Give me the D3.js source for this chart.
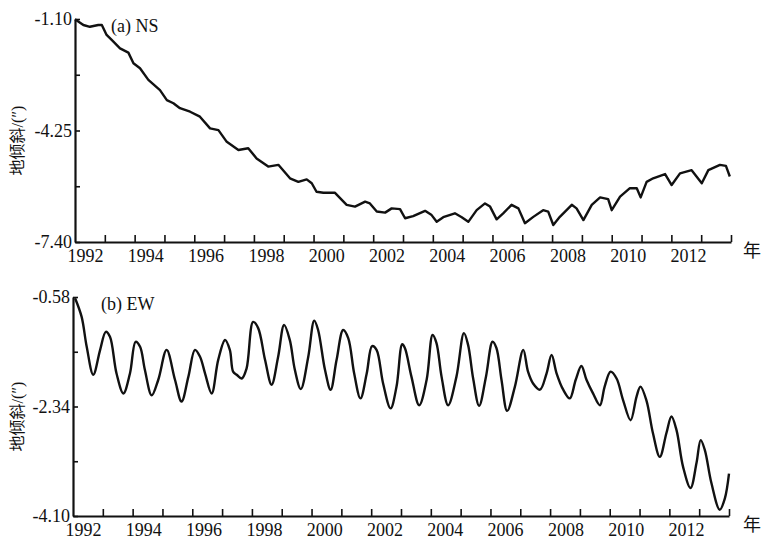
<!DOCTYPE html>
<html>
<head>
<meta charset="utf-8">
<script src="https://cdn.jsdelivr.net/npm/d3@7"></script>
<style>
  body { margin: 0; background: #fff; }
  text { font-family: "Liberation Serif", "Noto Sans CJK SC", serif; fill: #111; }
</style>
</head>
<body>
<div id="chart"></div>
<script>
// panel (a) NS: time (year) and tilt value (")
var nsYears = [1992.00, 1992.28, 1992.50, 1992.78, 1992.90, 1993.06, 1993.23, 1993.51, 1993.79, 1993.96,
  1994.18, 1994.46, 1994.85, 1995.08, 1995.30, 1995.52, 1995.86, 1996.19, 1996.53, 1996.81,
  1997.09, 1997.48, 1997.81, 1998.09, 1998.48, 1998.82, 1999.21, 1999.49, 1999.77, 1999.94,
  2000.10, 2000.33, 2000.72, 2001.11, 2001.39, 2001.73, 2001.89, 2002.12, 2002.40, 2002.62,
  2002.90, 2003.07, 2003.34, 2003.74, 2003.96, 2004.13, 2004.35, 2004.74, 2004.97, 2005.19,
  2005.47, 2005.75, 2005.92, 2006.14, 2006.36, 2006.64, 2006.87, 2007.09, 2007.37, 2007.70,
  2007.87, 2008.04, 2008.26, 2008.66, 2008.82, 2009.05, 2009.33, 2009.61, 2009.88, 2010.00,
  2010.28, 2010.61, 2010.84, 2010.97, 2011.17, 2011.39, 2011.79, 2012.01, 2012.29, 2012.68,
  2013.02, 2013.24, 2013.63, 2013.83, 2013.96];
var nsValues = [-1.11, -1.27, -1.32, -1.27, -1.27, -1.55, -1.69, -1.93, -2.05, -2.35,
  -2.49, -2.82, -3.11, -3.39, -3.48, -3.62, -3.72, -3.86, -4.19, -4.24,
  -4.57, -4.80, -4.75, -5.04, -5.27, -5.22, -5.60, -5.70, -5.63, -5.74,
  -5.98, -6.01, -6.01, -6.35, -6.40, -6.26, -6.31, -6.54, -6.57, -6.45,
  -6.47, -6.73, -6.67, -6.52, -6.64, -6.83, -6.70, -6.59, -6.70, -6.83,
  -6.50, -6.31, -6.40, -6.76, -6.59, -6.35, -6.45, -6.87, -6.69, -6.50,
  -6.54, -6.92, -6.69, -6.35, -6.45, -6.78, -6.35, -6.14, -6.19, -6.50,
  -6.12, -5.88, -5.88, -6.14, -5.70, -5.60, -5.48, -5.79, -5.46, -5.37,
  -5.74, -5.37, -5.22, -5.25, -5.55];

// panel (b) EW
var ewYears = [1992.07, 1992.29, 1992.46, 1992.68, 1992.91, 1993.10, 1993.24, 1993.46, 1993.69, 1993.91,
  1994.10, 1994.25, 1994.41, 1994.64, 1994.86, 1995.14, 1995.42, 1995.64, 1995.87, 1996.09,
  1996.26, 1996.43, 1996.65, 1996.87, 1997.10, 1997.26, 1997.37, 1997.49, 1997.66, 1997.82,
  1998.04, 1998.21, 1998.44, 1998.66, 1998.88, 1999.08, 1999.27, 1999.44, 1999.64, 1999.89,
  2000.09, 2000.22, 2000.45, 2000.64, 2000.84, 2001.06, 2001.23, 2001.43, 2001.64, 2001.85,
  2002.03, 2002.18, 2002.40, 2002.65, 2002.85, 2003.04, 2003.13, 2003.35, 2003.61, 2003.86,
  2004.06, 2004.19, 2004.36, 2004.58, 2004.86, 2005.11, 2005.25, 2005.42, 2005.62, 2005.85,
  2006.07, 2006.20, 2006.37, 2006.56, 2006.82, 2007.10, 2007.26, 2007.43, 2007.66, 2007.88,
  2008.05, 2008.22, 2008.44, 2008.66, 2008.86, 2009.05, 2009.22, 2009.44, 2009.67, 2009.83,
  2010.03, 2010.23, 2010.45, 2010.70, 2010.90, 2011.03, 2011.23, 2011.45, 2011.68, 2011.90,
  2012.07, 2012.24, 2012.46, 2012.71, 2012.91, 2013.05, 2013.19, 2013.41, 2013.69, 2013.86,
  2014.00];
var ewValues = [-0.60, -0.90, -1.38, -1.83, -1.43, -1.14, -1.22, -1.81, -2.13, -1.81,
  -1.30, -1.38, -1.75, -2.16, -1.91, -1.43, -1.91, -2.26, -1.86, -1.43,
  -1.54, -1.81, -2.13, -1.59, -1.27, -1.43, -1.78, -1.83, -1.89, -1.73,
  -0.98, -1.08, -1.59, -1.99, -1.54, -1.03, -1.27, -1.75, -2.06, -1.54,
  -0.96, -1.11, -1.75, -2.07, -1.59, -1.11, -1.24, -1.81, -2.21, -1.81,
  -1.37, -1.43, -1.97, -2.37, -2.02, -1.34, -1.40, -1.86, -2.32, -1.91,
  -1.19, -1.32, -1.86, -2.32, -1.86, -1.16, -1.35, -1.89, -2.33, -1.86,
  -1.30, -1.40, -1.91, -2.41, -2.02, -1.43, -1.78, -1.97, -2.07, -1.81,
  -1.51, -1.81, -2.07, -2.21, -1.91, -1.69, -1.91, -2.13, -2.32, -2.02,
  -1.78, -1.89, -2.24, -2.56, -2.18, -2.02, -2.24, -2.77, -3.15, -2.77,
  -2.50, -2.72, -3.31, -3.65, -3.25, -2.88, -3.04, -3.57, -4.00, -3.82,
  -3.42];

var yearLabels = [1992, 1994, 1996, 1998, 2000, 2002, 2004, 2006, 2008, 2010, 2012];
var yearTicks = d3.range(1993, 2015);

var width = 763, height = 540;

var svg = d3.select("#chart")
    .append("svg")
    .attr("width", width)
    .attr("height", height)
    .style("background", "#fff");

// one panel = axes + curve
function drawPanel(opt) {
    var g = svg.append("g");

    var x = d3.scaleLinear().domain([1992, 2014]).range([opt.left, opt.right]);
    var y = d3.scaleLinear().domain([opt.yTop, opt.yBottom]).range([opt.top, opt.bottom]);
    var mid = (opt.yTop + opt.yBottom) / 2;
    var yTicks = [opt.yTop, (opt.yTop + mid) / 2, mid, (mid + opt.yBottom) / 2, opt.yBottom];
    var labeled = [opt.yTop, mid, opt.yBottom];

    // x axis, ticks pointing inward
    var xAxis = g.append("g")
        .attr("transform", "translate(0," + opt.bottom + ")")
        .call(d3.axisBottom(x).tickValues(yearTicks).tickSize(-7).tickSizeOuter(0).tickFormat(""));
    xAxis.select(".domain").attr("stroke-width", 2.2).attr("stroke", "#111");
    xAxis.selectAll(".tick line").attr("stroke-width", 1.6).attr("stroke", "#111");

    // year labels sit a bit right of their ticks in the original
    var xl = d3.scaleLinear().domain([1992, 2012]).range([opt.left + 10, opt.left + 613]);
    var xLab = g.append("g")
        .attr("transform", "translate(0," + opt.bottom + ")")
        .call(d3.axisBottom(xl).tickValues(yearLabels).tickSize(0).tickPadding(7).tickFormat(d3.format("d")));
    xLab.select(".domain").remove();
    xLab.selectAll("text").style("font-size", "18px").attr("fill", "#111");

    // y axis
    var yAxis = g.append("g")
        .attr("transform", "translate(" + opt.left + ",0)")
        .call(d3.axisLeft(y).tickValues(yTicks).tickSize(-5).tickSizeOuter(0).tickPadding(3)
            .tickFormat(function(d) {
                return labeled.some(function(l) { return Math.abs(l - d) < 1e-6; }) ? d.toFixed(2) : "";
            }));
    yAxis.select(".domain").attr("stroke-width", 2.2).attr("stroke", "#111");
    yAxis.selectAll(".tick line").attr("stroke-width", 1.6).attr("stroke", "#111");
    yAxis.selectAll("text").style("font-size", "18px").attr("fill", "#111");

    // the series
    var pts = opt.years.map(function(t, i) { return [t, opt.values[i]]; });
    var line = d3.line()
        .x(function(d) { return x(d[0]); })
        .y(function(d) { return y(d[1]); })
        .curve(opt.curve);
    g.append("path")
        .datum(pts)
        .attr("fill", "none")
        .attr("stroke", "#111")
        .attr("stroke-width", 2.4)
        .attr("stroke-linejoin", "round")
        .attr("d", line);

    // panel title
    g.append("text")
        .attr("x", opt.titleX)
        .attr("y", opt.top + 13)
        .style("font-size", "18px")
        .text(opt.title);

    // y label
    g.append("text")
        .attr("transform", "translate(" + 23 + "," + ((opt.top + opt.bottom) / 2 + 10) + ") rotate(-90)")
        .attr("text-anchor", "middle")
        .style("font-size", "16px")
        .text("地倾斜/(″)");

    // unit at axis end
    g.append("text")
        .attr("x", 743)
        .attr("y", opt.bottom + 15)
        .style("font-size", "18px")
        .text("年");
}

drawPanel({
    title: "(a) NS", titleX: 111,
    left: 75, right: 731, top: 19, bottom: 242,
    yTop: -1.10, yBottom: -7.40,
    years: nsYears, values: nsValues,
    curve: d3.curveLinear
});

drawPanel({
    title: "(b) EW", titleX: 101,
    left: 73, right: 729, top: 297, bottom: 516,
    yTop: -0.58, yBottom: -4.10,
    years: ewYears, values: ewValues,
    curve: d3.curveCatmullRom.alpha(0.5)
});
</script>
</body>
</html>
